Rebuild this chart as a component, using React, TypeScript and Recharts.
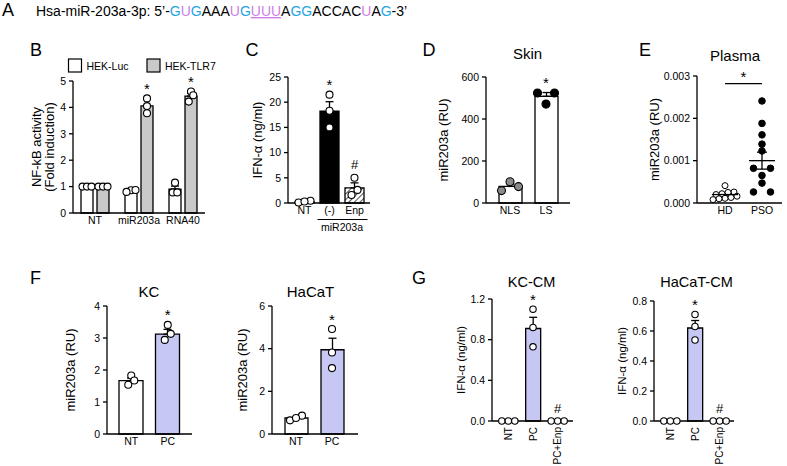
import React from 'react';
import {
  ComposedChart,
  ScatterChart,
  Bar,
  Line,
  Scatter,
  XAxis,
  YAxis,
  ErrorBar,
  Cell,
  ReferenceLine,
} from 'recharts';

const FONT = '"Liberation Sans", Arial, Helvetica, sans-serif';
const LAVENDER = '#c6c8f3';
const GRAY = '#c9c9c9';

// ---- B: NF-kB reporter
const bCats = ['NT', 'miR203a', 'RNA40'];
const bLucMean = [1.0, 0.84, 0.9];
const bLucSem = [0, 0.03, 0.12];
const bLucPts = [[1, 1, 1], [0.86, 0.8, 0.87], [1.15, 0.78, 0.78]];
const bTlrMean = [1.0, 4.06, 4.43];
const bTlrSem = [0, 0.25, 0.1];
const bTlrPts = [[1, 1, 1], [4.34, 4.05, 3.78], [4.6, 4.46, 4.22]];
const bTlrMarks = ['', '*', '*'];
const bTicks = [0, 1, 2, 3, 4, 5];

// ---- C: IFN-a
const cCats = ['NT', '(-)', 'Enp'];
const cMean = [0.25, 18.2, 3.0];
const cSem = [0.1, 1.9, 1.0];
const cPts = [[0.1, 0.45, 0.3], [21.5, 18.3, 15.0], [5.0, 2.6, 1.6]];
const cMarks = ['', '*', '#'];
const cTicks = [0, 5, 10, 15, 20, 25];

// ---- D: skin
const dCats = ['NLS', 'LS'];
const dMean = [79, 508];
const dSem = [11, 18];
const dPts = [[78, 101, 59], [524, 524, 471]];
const dMarks = ['', '*'];
const dTicks = [0, 200, 400, 600];

// ---- E: plasma
const eGroups = ['HD', 'PSO'];
const eHd = [0.00041, 0.00026, 0.00025, 0.00022, 0.0002, 0.00016, 0.00013, 0.00011, 0.0001, 0.00008];
const ePso = [0.00241, 0.00188, 0.00161, 0.00139, 0.00123, 0.00082, 0.00082, 0.00065, 0.00047, 0.00026, 0.00026];
const eMeans = [0.0002, 0.001];
const eSems = [0.00003, 0.0002];
const eSigLevel = 0.00282;
const eTicks = [0, 0.001, 0.002, 0.003];

// ---- F: KC / HaCaT
const fCats = ['NT', 'PC'];
const fKcMean = [1.67, 3.12];
const fKcSem = [0.08, 0.15];
const fKcPts = [[1.83, 1.54, 1.67], [3.41, 3.13, 2.94]];
const fHaMean = [0.75, 3.95];
const fHaSem = [0.06, 0.54];
const fHaPts = [[0.64, 0.86, 0.75], [4.92, 3.82, 3.09]];
const fMarks = ['', '*'];
const fKcTicks = [0, 1, 2, 3, 4];
const fHaTicks = [0, 2, 4, 6];

// ---- G: conditioned media
const gCats = ['NT', 'PC', 'PC+Enp'];
const gKcMean = [0, 0.91, 0];
const gKcSem = [0, 0.11, 0];
const gKcPts = [[0, 0, 0], [1.1, 0.92, 0.73], [0, 0, 0]];
const gHaMean = [0, 0.62, 0];
const gHaSem = [0, 0.05, 0];
const gHaPts = [[0, 0, 0], [0.71, 0.63, 0.54], [0, 0, 0]];
const gMarks = ['', '*', '#'];
const gKcTicks = [0, 0.4, 0.8, 1.2];
const gHaTicks = [0, 0.2, 0.4, 0.6, 0.8];

type Box = {
  left: number; top: number; width: number; height: number;
  mt: number; mr: number; yw: number; xh: number; padL: number; padR: number;
};

const axisLine = { stroke: '#000', strokeWidth: 1.3 };
const tickText = { fontSize: 10.5, fill: '#000', fontFamily: FONT };

// points that sit at about the same height are spread sideways in a row
function swarmOffsets(values: number[], ppu: number, thrPx: number, step: number): number[] {
  const order = values.map((_, i) => i).sort((a, b) => values[a] - values[b]);
  const offs = values.map(() => 0);
  let row: number[] = [];
  const flush = () => {
    row.forEach((k, n) => { offs[k] = (n - (row.length - 1) / 2) * step; });
    row = [];
  };
  order.forEach((k) => {
    if (row.length && (values[k] - values[row[0]]) * ppu >= thrPx) flush();
    row.push(k);
  });
  flush();
  return offs;
}

const pointDot = (valKey: string, offKey: string, r: number, fills: string[], shift = 0, sw = 1.1) =>
  (props: any) => {
    const { cx, cy, payload, index } = props;
    if (cx == null || cy == null || payload[valKey] == null) return <g key={`${valKey}-${index}`} />;
    return (
      <circle key={`${valKey}-${index}`} cx={cx + shift + payload[offKey]} cy={cy} r={r}
        fill={fills[index]} stroke="#000" strokeWidth={sw} />
    );
  };

const markDot = (shift = 0) => (props: any) => {
  const { cx, cy, payload, index } = props;
  if (!payload.mark || cx == null) return <g key={`m${index}`} />;
  const star = payload.mark === '*';
  return (
    <text key={`m${index}`} x={cx + shift} y={star ? cy - 4.5 : cy - 8.5} textAnchor="middle"
      fontSize={star ? 15 : 13} fontFamily={FONT} fill="#000">{payload.mark}</text>
  );
};

const yLabel = (lines: string[], xs: number[], size = 13) => (props: any) => {
  const vb = props.viewBox || { x: 0, y: 0, height: 0 };
  const cy = vb.y + vb.height / 2;
  return (
    <g>
      {lines.map((t, k) => {
        const x = vb.x + xs[k];
        return (
          <text key={k} x={x} y={cy} transform={`rotate(-90 ${x} ${cy})`} textAnchor="middle"
            dominantBaseline="central" fontSize={size} fontFamily={FONT} fill="#000">{t}</text>
        );
      })}
    </g>
  );
};

// x labels of panel C with the miR203a bracket under (-) and Enp
const cTick = (props: any) => {
  const { x, y, payload } = props;
  const v = payload.value;
  return (
    <g>
      <text x={x} y={y} dy="0.71em" textAnchor="middle" fontSize={10.5} fontFamily={FONT} fill="#000">{v}</text>
      {v === '(-)' && <line x1={x - 12} x2={x + 13} y1={y + 12.5} y2={y + 12.5} stroke="#000" strokeWidth={1} />}
      {v === 'Enp' && <line x1={x - 12.5} x2={x + 13} y1={y + 12.5} y2={y + 12.5} stroke="#000" strokeWidth={1} />}
      {v === '(-)' && (
        <text x={x + 12.5} y={y + 17} dy="0.71em" textAnchor="middle" fontSize={10.5} fontFamily={FONT} fill="#000">miR203a</text>
      )}
    </g>
  );
};

const rotTick = (props: any) => {
  const { x, y, payload } = props;
  return (
    <text x={x} y={y} transform={`rotate(-90 ${x} ${y})`} textAnchor="end" dominantBaseline="central"
      fontSize={10} fontFamily={FONT} fill="#000">{payload.value}</text>
  );
};

function buildRows(cats: string[], means: number[], sems: number[], pts: number[][], marks: string[],
  ppu: number, thr: number, step: number) {
  return cats.map((c, i) => {
    const offs = swarmOffsets(pts[i], ppu, thr, step);
    const row: any = {
      cat: c, mean: means[i], err: [0, sems[i]], mark: marks[i],
      top: Math.max(...pts[i], means[i] + sems[i]),
    };
    pts[i].forEach((v, j) => { row[`p${j}`] = v; row[`o${j}`] = offs[j]; });
    return row;
  });
}

interface BarPanelProps {
  box: Box;
  cats: string[]; means: number[]; sems: number[]; pts: number[][]; marks: string[];
  barFills: string[]; dotFills: string[];
  domain: [number, number]; ticks: number[]; digits: number;
  barSize: number; r: number; step: number;
  label: string; labelX: number; labelSize?: number;
  xTick?: any; tickMargin?: number;
}

function BarPanel(p: BarPanelProps) {
  const { box } = p;
  const plotH = box.height - box.mt - box.xh;
  const ppu = plotH / p.domain[1];
  const rows = buildRows(p.cats, p.means, p.sems, p.pts, p.marks, ppu, 2 * p.r, p.step);
  return (
    <div style={{ position: 'absolute', left: box.left, top: box.top }}>
      <ComposedChart width={box.width} height={box.height} data={rows}
        margin={{ top: box.mt, right: box.mr, bottom: 0, left: 0 }}>
        <XAxis dataKey="cat" interval={0} tickLine={false} tickSize={0} tickMargin={p.tickMargin ?? 4}
          height={box.xh} axisLine={axisLine} tick={p.xTick ?? tickText}
          padding={{ left: box.padL, right: box.padR }} />
        <YAxis type="number" domain={p.domain} ticks={p.ticks} interval={0} width={box.yw}
          tickSize={4} tickMargin={3} axisLine={axisLine} tickLine={axisLine} tick={tickText}
          tickFormatter={(v: number) => v.toFixed(p.digits)}
          label={yLabel([p.label], [p.labelX], p.labelSize ?? 13)} />
        <Bar dataKey="mean" barSize={p.barSize} stroke="#000" strokeWidth={1.3} isAnimationActive={false}>
          {rows.map((_, i) => <Cell key={i} fill={p.barFills[i]} />)}
          <ErrorBar dataKey="err" direction="y" width={4} stroke="#000" strokeWidth={1.3} />
        </Bar>
        {[0, 1, 2].map((j) => (
          <Line key={j} dataKey={`p${j}`} stroke="none" dot={pointDot(`p${j}`, `o${j}`, p.r, p.dotFills)}
            activeDot={false} isAnimationActive={false} legendType="none" />
        ))}
        <Line dataKey="top" stroke="none" dot={markDot(0)} activeDot={false} isAnimationActive={false} legendType="none" />
      </ComposedChart>
    </div>
  );
}

function PanelB() {
  const box = { left: 0, top: 60, width: 230, height: 178, mt: 21, mr: 25, yw: 73, xh: 25 };
  const ppu = (box.height - box.mt - box.xh) / 5;
  const rows = bCats.map((c, i) => {
    const lo = swarmOffsets(bLucPts[i], ppu, 7, 4.5);
    const to = swarmOffsets(bTlrPts[i], ppu, 7, 4.5);
    const row: any = {
      cat: c, luc: bLucMean[i], tlr: bTlrMean[i],
      lErr: [0, bLucSem[i]], tErr: [0, bTlrSem[i]], mark: bTlrMarks[i],
      top: Math.max(...bTlrPts[i], bTlrMean[i] + bTlrSem[i]),
    };
    bLucPts[i].forEach((v, j) => { row[`l${j}`] = v; row[`lo${j}`] = lo[j]; });
    bTlrPts[i].forEach((v, j) => { row[`t${j}`] = v; row[`to${j}`] = to[j]; });
    return row;
  });
  const white = bCats.map(() => '#fff');
  return (
    <div style={{ position: 'absolute', left: box.left, top: box.top }}>
      <ComposedChart width={box.width} height={box.height} data={rows} barGap={4}
        margin={{ top: box.mt, right: box.mr, bottom: 0, left: 0 }}>
        <XAxis dataKey="cat" interval={0} tickLine={false} tickSize={0} tickMargin={4}
          height={box.xh} axisLine={axisLine} tick={tickText} />
        <YAxis type="number" domain={[0, 5]} ticks={bTicks} interval={0} width={box.yw}
          tickSize={4} tickMargin={3} axisLine={axisLine} tickLine={axisLine} tick={tickText}
          label={yLabel(['NF-kB  activity', '(Fold induction)'], [36, 49], 13)} />
        <Bar dataKey="luc" barSize={12} fill="#fff" stroke="#000" strokeWidth={1.3} isAnimationActive={false}>
          <ErrorBar dataKey="lErr" direction="y" width={4} stroke="#000" strokeWidth={1.3} />
        </Bar>
        <Bar dataKey="tlr" barSize={12} fill={GRAY} stroke="#000" strokeWidth={1.3} isAnimationActive={false}>
          <ErrorBar dataKey="tErr" direction="y" width={4} stroke="#000" strokeWidth={1.3} />
        </Bar>
        {[0, 1, 2].map((j) => (
          <Line key={`l${j}`} dataKey={`l${j}`} stroke="none" dot={pointDot(`l${j}`, `lo${j}`, 3.5, white, -8)}
            activeDot={false} isAnimationActive={false} legendType="none" />
        ))}
        {[0, 1, 2].map((j) => (
          <Line key={`t${j}`} dataKey={`t${j}`} stroke="none" dot={pointDot(`t${j}`, `to${j}`, 3.5, white, 8)}
            activeDot={false} isAnimationActive={false} legendType="none" />
        ))}
        <Line dataKey="top" stroke="none" dot={markDot(8)} activeDot={false} isAnimationActive={false} legendType="none" />
      </ComposedChart>
    </div>
  );
}

function PanelE() {
  const box = { left: 630, top: 60, width: 157, height: 170, mt: 16, mr: 5, yw: 67, xh: 27 };
  const ppu = (box.height - box.mt - box.xh) / 0.003;
  const hdOff = swarmOffsets(eHd, ppu, 3.8, 6);
  const psoOff = swarmOffsets(ePso, ppu, 3.8, 17);
  const hdData = eHd.map((v, i) => ({ x: 0, y: v, off: hdOff[i] }));
  const psoData = ePso.map((v, i) => ({ x: 1, y: v, off: psoOff[i] }));
  const meanData = eGroups.map((_, i) => ({ x: i, y: eMeans[i], err: eSems[i] }));
  return (
    <div style={{ position: 'absolute', left: box.left, top: box.top }}>
      <ScatterChart width={box.width} height={box.height}
        margin={{ top: box.mt, right: box.mr, bottom: 0, left: 0 }}>
        <XAxis type="number" dataKey="x" domain={[-0.757, 1.541]} ticks={[0, 1]} interval={0}
          tickFormatter={(v: number) => eGroups[v]} tickLine={false} tickSize={0} tickMargin={4}
          height={box.xh} axisLine={axisLine} tick={tickText} />
        <YAxis type="number" dataKey="y" domain={[0, 0.003]} ticks={eTicks} interval={0} width={box.yw}
          tickSize={4} tickMargin={3} axisLine={axisLine} tickLine={axisLine} tick={tickText}
          tickFormatter={(v: number) => v.toFixed(3)}
          label={yLabel(['miR203a (RU)'], [24], 13)} />
        <ReferenceLine segment={[{ x: 0, y: eSigLevel }, { x: 1, y: eSigLevel }]} stroke="#000" strokeWidth={1.3}
          label={(props: any) => {
            const vb = props.viewBox || { x: 0, y: 0, width: 0 };
            return (
              <text x={vb.x + vb.width / 2} y={vb.y - 1.5} textAnchor="middle" fontSize={15}
                fontFamily={FONT} fill="#000">*</text>
            );
          }} />
        <Scatter data={hdData} isAnimationActive={false}
          shape={(props: any) => (
            <circle cx={props.cx + props.payload.off} cy={props.cy} r={3} fill="#fff" stroke="#000" strokeWidth={1} />
          )} />
        <Scatter data={psoData} isAnimationActive={false}
          shape={(props: any) => (
            <circle cx={props.cx + props.payload.off} cy={props.cy} r={3.3} fill="#000" stroke="#000" strokeWidth={1} />
          )} />
        <Scatter data={meanData} isAnimationActive={false}
          shape={(props: any) => (
            <line x1={props.cx - 13} x2={props.cx + 13} y1={props.cy} y2={props.cy} stroke="#000" strokeWidth={1.3} />
          )}>
          <ErrorBar dataKey="err" direction="y" width={5} stroke="#000" strokeWidth={1.3} />
        </Scatter>
      </ScatterChart>
    </div>
  );
}

const PINK = '#cf7de9';
const BLUE = '#22a5e3';

export default function App() {
  const t = (x: number, y: number, s: string, size: number, anchor: any = 'middle') => (
    <text x={x} y={y} fontSize={size} textAnchor={anchor} fontFamily={FONT} fill="#000">{s}</text>
  );
  return (
    <div style={{ position: 'fixed', left: 0, top: 0, width: 787, height: 466, background: '#fff', overflow: 'hidden' }}>
      <svg width={0} height={0} style={{ position: 'absolute' }}>
        <defs>
          <pattern id="hatchC" patternUnits="userSpaceOnUse" width={4} height={4} patternTransform="rotate(45)">
            <rect width={4} height={4} fill="#fff" />
            <line x1={0} y1={0} x2={0} y2={4} stroke="#000" strokeWidth={1.4} />
          </pattern>
        </defs>
      </svg>

      <PanelB />
      <BarPanel
        box={{ left: 230, top: 60, width: 150, height: 180, mt: 17, mr: 10, yw: 58, xh: 37, padL: 4, padR: 3 }}
        cats={cCats} means={cMean} sems={cSem} pts={cPts} marks={cMarks}
        barFills={['#fff', '#000', 'url(#hatchC)']} dotFills={['#fff', '#fff', '#fff']}
        domain={[0, 25]} ticks={cTicks} digits={0} barSize={19} r={3.5} step={6}
        label="IFN-α (ng/ml)" labelX={27} xTick={cTick} />
      <BarPanel
        box={{ left: 420, top: 60, width: 160, height: 170, mt: 17, mr: 10, yw: 66, xh: 27, padL: 6, padR: 6 }}
        cats={dCats} means={dMean} sems={dSem} pts={dPts} marks={dMarks}
        barFills={['#fff', '#fff']} dotFills={['#8a8a8a', '#000']}
        domain={[0, 600]} ticks={dTicks} digits={0} barSize={23} r={4} step={17}
        label="miR203a (RU)" labelX={23} />
      <PanelE />
      <BarPanel
        box={{ left: 50, top: 290, width: 152, height: 170, mt: 16, mr: 10, yw: 57, xh: 26, padL: 6, padR: 6 }}
        cats={fCats} means={fKcMean} sems={fKcSem} pts={fKcPts} marks={fMarks}
        barFills={['#fff', LAVENDER]} dotFills={['#fff', '#fff']}
        domain={[0, 4]} ticks={fKcTicks} digits={0} barSize={24} r={3.5} step={6}
        label="miR203a (RU)" labelX={20} />
      <BarPanel
        box={{ left: 215, top: 290, width: 153, height: 170, mt: 16, mr: 10, yw: 57, xh: 26, padL: 6, padR: 8 }}
        cats={fCats} means={fHaMean} sems={fHaSem} pts={fHaPts} marks={fMarks}
        barFills={['#fff', LAVENDER]} dotFills={['#fff', '#fff']}
        domain={[0, 6]} ticks={fHaTicks} digits={0} barSize={23} r={3.5} step={6}
        label="miR203a (RU)" labelX={27} />
      <BarPanel
        box={{ left: 430, top: 285, width: 153, height: 181, mt: 14, mr: 10, yw: 62, xh: 45, padL: 4, padR: 3 }}
        cats={gCats} means={gKcMean} sems={gKcSem} pts={gKcPts} marks={gMarks}
        barFills={[LAVENDER, LAVENDER, LAVENDER]} dotFills={['#fff', '#fff', '#fff']}
        domain={[0, 1.2]} ticks={gKcTicks} digits={1} barSize={15} r={3.2} step={6.5}
        label="IFN-α (ng/ml)" labelX={31} labelSize={11.5} xTick={rotTick} tickMargin={6} />
      <BarPanel
        box={{ left: 595, top: 285, width: 149, height: 181, mt: 16, mr: 10, yw: 59, xh: 45, padL: 4, padR: 2 }}
        cats={gCats} means={gHaMean} sems={gHaSem} pts={gHaPts} marks={gMarks}
        barFills={[LAVENDER, LAVENDER, LAVENDER]} dotFills={['#fff', '#fff', '#fff']}
        domain={[0, 0.8]} ticks={gHaTicks} digits={1} barSize={15} r={3.2} step={6.5}
        label="IFN-α (ng/ml)" labelX={27} labelSize={11.5} xTick={rotTick} tickMargin={6} />

      {/* letters, titles, sequence and legend */}
      <svg width={787} height={466} style={{ position: 'absolute', left: 0, top: 0, pointerEvents: 'none' }}>
        {t(8, 16, 'A', 18)}
        <text x={36} y={16} fontSize={14} fontFamily={FONT} fill="#000">
          <tspan>Hsa-miR-203a-3p: 5’-</tspan>
          <tspan fill={BLUE}>G</tspan><tspan fill={PINK}>U</tspan><tspan fill={BLUE}>G</tspan>
          <tspan>AAA</tspan>
          <tspan fill={PINK}>U</tspan><tspan fill={BLUE}>G</tspan>
          <tspan fill={PINK} style={{ textDecoration: 'underline' }}>UUU</tspan>
          <tspan>A</tspan><tspan fill={BLUE}>GG</tspan>
          <tspan>ACCAC</tspan>
          <tspan fill={PINK}>U</tspan><tspan>A</tspan><tspan fill={BLUE}>G</tspan>
          <tspan>-3’</tspan>
        </text>

        {t(36, 56, 'B', 18)}
        {t(252, 56, 'C', 18)}
        {t(429, 56, 'D', 18)}
        {t(645, 56, 'E', 18)}
        {t(35.5, 283.5, 'F', 18)}
        {t(419, 283.5, 'G', 18)}

        {t(527.5, 59.4, 'Skin', 15)}
        {t(735, 61, 'Plasma', 15)}
        {t(149, 297.4, 'KC', 15)}
        {t(310.5, 297.4, 'HaCaT', 15)}
        {t(531.5, 287.2, 'KC-CM', 14.5)}
        {t(696.5, 287.2, 'HaCaT-CM', 14.5)}

        <rect x={68.5} y={59} width={13} height={13} fill="#fff" stroke="#000" strokeWidth={1.2} />
        {t(86.5, 69.8, 'HEK-Luc', 10.5, 'start')}
        <rect x={147} y={59} width={13} height={13} fill={GRAY} stroke="#000" strokeWidth={1.2} />
        {t(165, 69.8, 'HEK-TLR7', 10.5, 'start')}
      </svg>
    </div>
  );
}
